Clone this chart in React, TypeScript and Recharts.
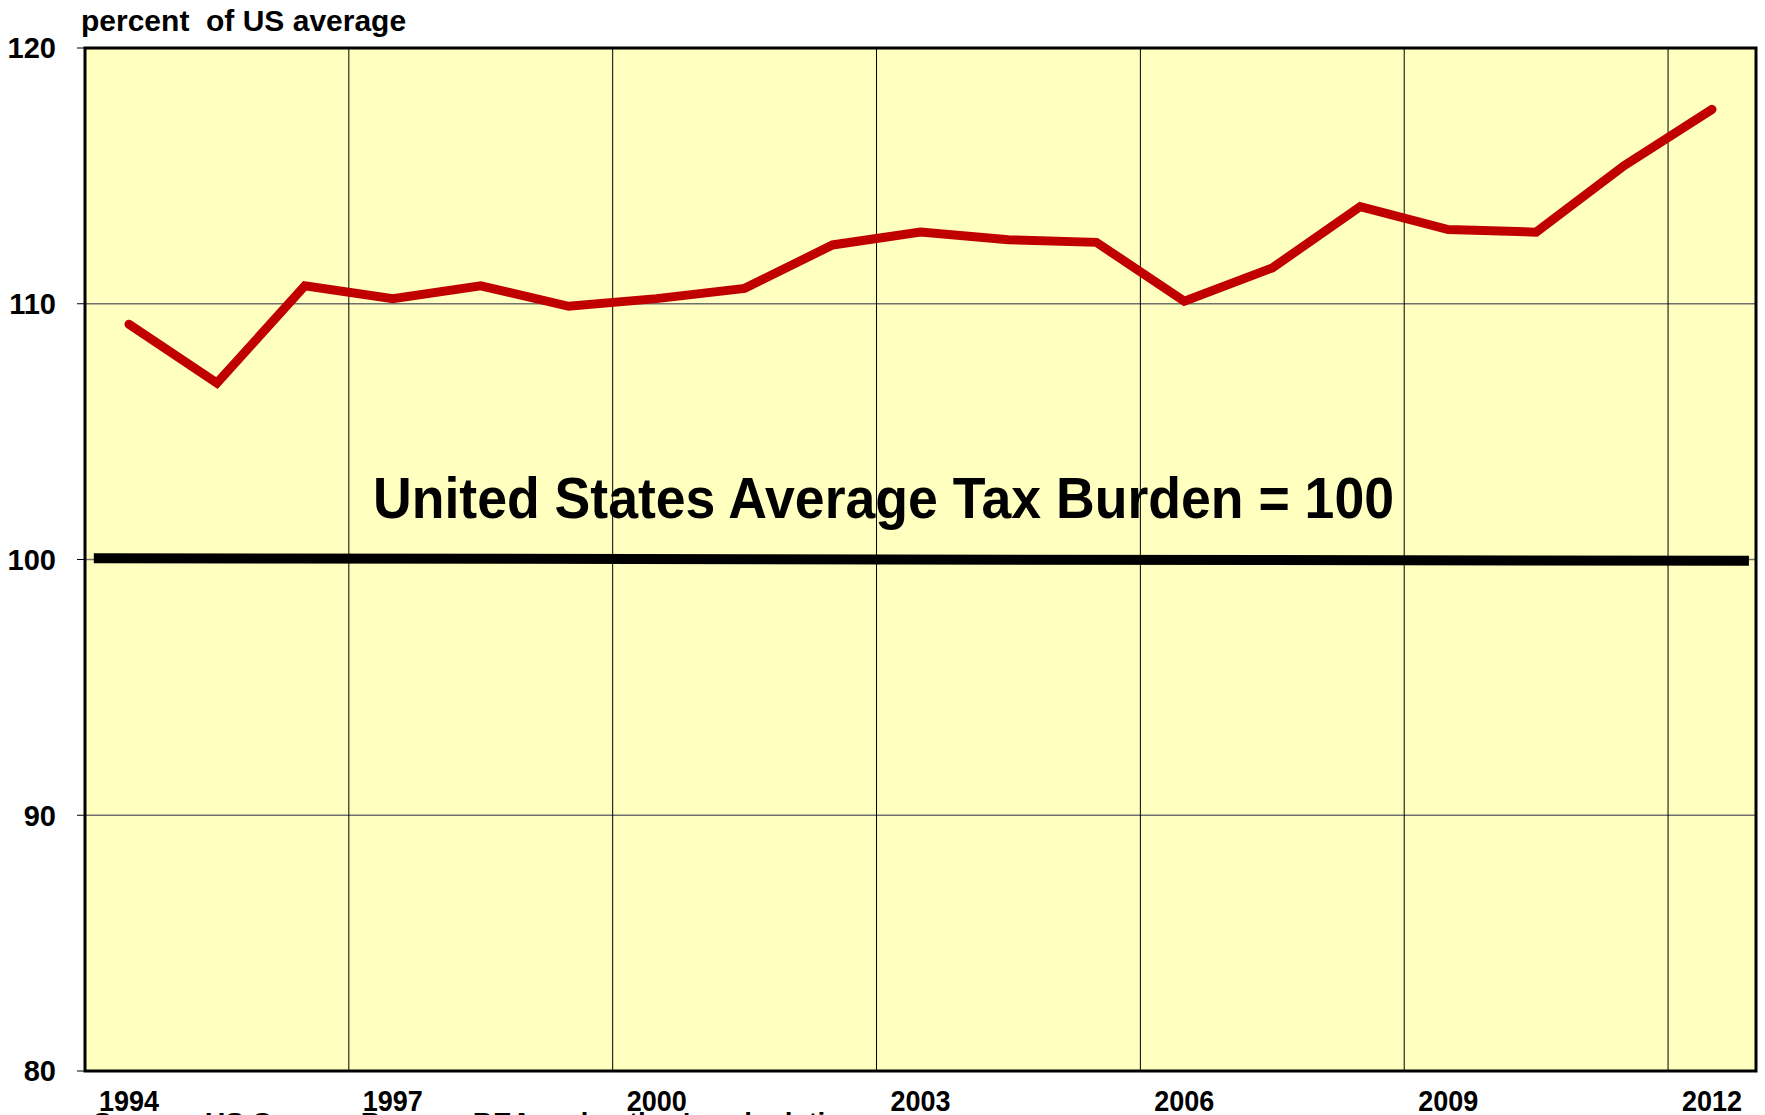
import React from "react";
import {
  LineChart,
  Line,
  XAxis,
  YAxis,
  CartesianGrid,
  ReferenceLine,
  ReferenceArea,
} from "recharts";

const years = [1994, 1995, 1996, 1997, 1998, 1999, 2000, 2001, 2002, 2003, 2004, 2005, 2006, 2007, 2008, 2009, 2010, 2011, 2012];
const burden = [109.2, 106.9, 110.7, 110.2, 110.7, 109.9, 110.2, 110.6, 112.3, 112.8, 112.5, 112.4, 110.1, 111.4, 113.8, 112.9, 112.8, 115.4, 117.6];
const xTicks = [1994, 1997, 2000, 2003, 2006, 2009, 2012];
const yTicks = [80, 90, 100, 110, 120];
const usAverage = 100;

const titleText = "percent  of US average";
const annotationText = "United States Average Tax Burden = 100";
const sourceText = "Source: US Census Bureau, BEA and author's calculations";

const data = years.map((year, i) => ({ year, value: burden[i] }));
const gridYears = xTicks.slice(0, -1).map((y) => y + 2.5);

const FONT = "'Liberation Sans', Arial, sans-serif";

function XTick(props: any) {
  const { x, y, payload } = props;
  return (
    <g transform={`translate(${x},${y}) scale(0.9,1)`}>
      <text
        x={0}
        y={0}
        dy="0.71em"
        textAnchor="middle"
        fontFamily={FONT}
        fontWeight={700}
        fontSize={30}
        fill="#000"
      >
        {payload.value}
      </text>
    </g>
  );
}

export default function App() {
  return (
    <div
      style={{
        position: "absolute",
        left: 0,
        top: 0,
        width: 1765,
        height: 1115,
        overflow: "hidden",
        background: "#fff",
        fontFamily: FONT,
      }}
    >
      <LineChart
        width={1765}
        height={1115}
        data={data}
        margin={{ top: 48, right: 9, bottom: 0, left: 0 }}
      >
        <CartesianGrid
          vertical={false}
          horizontal={true}
          fill="#FFFFC0"
          fillOpacity={1}
          stroke="#707070"
          strokeWidth={1.5}
        />
        <XAxis
          dataKey="year"
          type="number"
          domain={[1993.5, 2012.5]}
          ticks={xTicks}
          allowDataOverflow
          height={44}
          axisLine={false}
          tickLine={false}
          tickSize={0}
          tickMargin={19}
          interval={0}
          tick={<XTick />}
        />
        <YAxis
          type="number"
          domain={[80, 120]}
          ticks={yTicks}
          width={85}
          axisLine={false}
          tickLine={{ stroke: "#000", strokeWidth: 1 }}
          tickSize={8}
          tickMargin={21}
          interval={0}
          tick={{ fill: "#000", fontSize: 29, fontWeight: 700, fontFamily: FONT }}
        />
        {gridYears.map((g) => (
          <ReferenceLine
            key={g}
            x={g}
            stroke="#000"
            strokeWidth={1}
            zIndex={50}
          />
        ))}
        <ReferenceLine
          segment={[
            { x: 1993.6, y: usAverage + 0.05 },
            { x: 2012.42, y: usAverage - 0.05 },
          ]}
          stroke="#000"
          strokeWidth={10}
          zIndex={300}
        />
        <Line
          type="linear"
          dataKey="value"
          stroke="#C00000"
          strokeWidth={9}
          strokeLinecap="round"
          strokeLinejoin="miter"
          dot={false}
          activeDot={false}
          isAnimationActive={false}
          zIndex={400}
        />
        <ReferenceArea
          x1={1993.5}
          x2={2012.5}
          y1={80}
          y2={120}
          fill="#FFFFC0"
          fillOpacity={0}
          stroke="#000"
          strokeWidth={3}
          zIndex={450}
        />
      </LineChart>
      <svg
        width={1765}
        height={1115}
        style={{ position: "absolute", left: 0, top: 0, pointerEvents: "none" }}
      >
        <text
          x={81}
          y={31}
          fontFamily={FONT}
          fontWeight={700}
          fontSize={30}
          fill="#000"
          style={{ whiteSpace: "pre" }}
          xmlSpace="preserve"
        >
          {titleText}
        </text>
        <text
          x={373}
          y={518}
          fontFamily={FONT}
          fontWeight={700}
          fontSize={57}
          fill="#000"
          textLength={1021}
          lengthAdjust="spacingAndGlyphs"
        >
          {annotationText}
        </text>
        <text
          x={93}
          y={1132}
          fontFamily={FONT}
          fontWeight={700}
          fontSize={28}
          fill="#000"
        >
          {sourceText}
        </text>
      </svg>
    </div>
  );
}
